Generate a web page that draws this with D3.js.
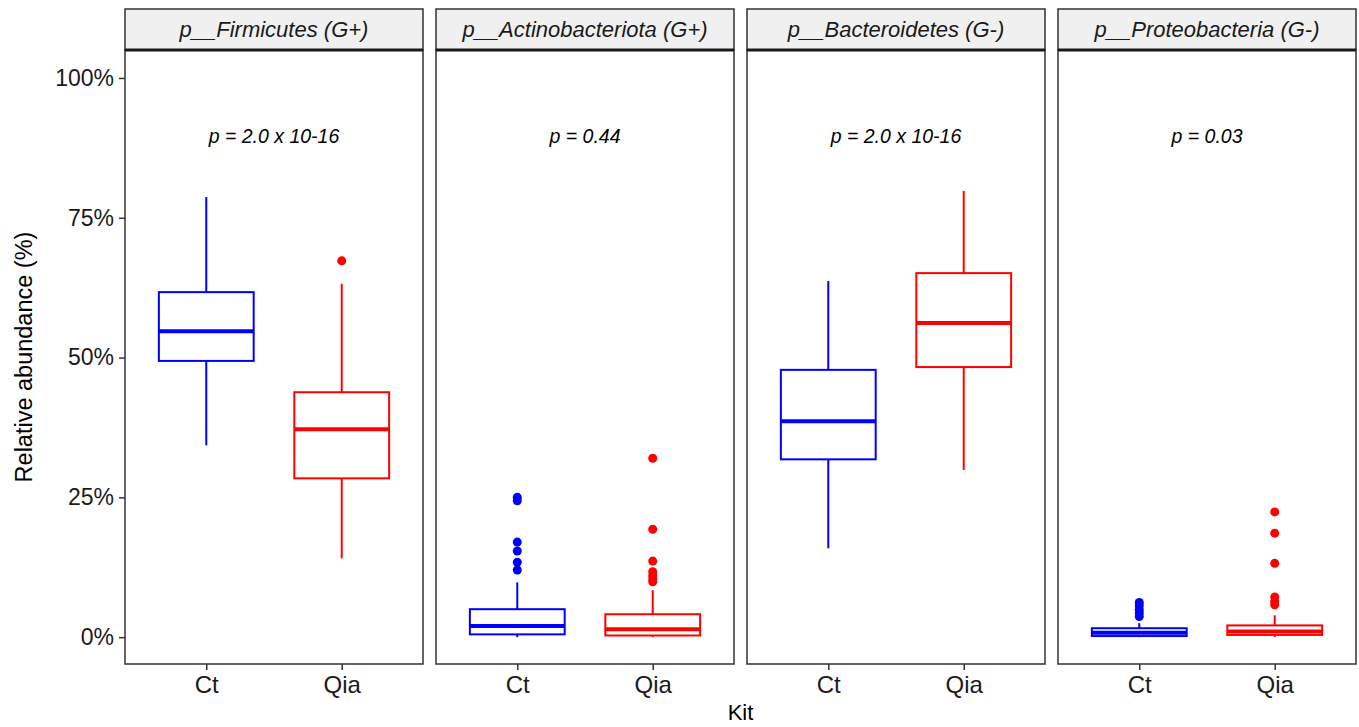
<!DOCTYPE html>
<html>
<head>
<meta charset="utf-8">
<script src="https://cdn.jsdelivr.net/npm/d3@7"></script>
<style>
  body { margin: 0; background: #fff; }
  text { font-family: "Liberation Sans", Arial, sans-serif; }
</style>
</head>
<body>
<div id="chart"></div>
<script>
// facets and labels
const phyla = ["p__Firmicutes (G+)", "p__Actinobacteriota (G+)", "p__Bacteroidetes (G-)", "p__Proteobacteria (G-)"];
const pLabels = ["p = 2.0 x 10-16", "p = 0.44", "p = 2.0 x 10-16", "p = 0.03"];
const kits = ["Ct", "Qia"];
const kitColors = ["#0000ff", "#ff0000"];
const yTicks = [0, 25, 50, 75, 100];

// box stats per phylum: [lower whisker, q1, median, q3, upper whisker] (%)
const ctStats = [
    [34.3, 49.4, 54.7, 61.7, 78.7],
    [0.0, 0.5, 2.0, 5.0, 9.8],
    [15.9, 31.8, 38.6, 47.8, 63.7],
    [0.0, 0.2, 0.8, 1.6, 2.5]
];
const qiaStats = [
    [14.1, 28.4, 37.2, 43.8, 63.2],
    [0.0, 0.3, 1.4, 4.1, 8.4],
    [29.9, 48.3, 56.2, 65.1, 79.8],
    [0.0, 0.4, 1.0, 2.1, 3.9]
];

// outliers per phylum (%)
const ctOutliers = [
    [],
    [25.0, 24.4, 17.0, 15.4, 13.4, 12.0],
    [],
    [6.2, 5.6, 4.9, 4.3, 3.7]
];
const qiaOutliers = [
    [67.3],
    [32.0, 19.3, 13.6, 11.7, 11.0, 10.4, 9.9],
    [],
    [22.4, 18.6, 13.2, 7.2, 6.4, 5.8]
];

const width = 1359;
const height = 727;
const left = 125;
const panelW = 298;
const gap = 13;
const stripTop = 9;
const stripBottom = 50;
const panelBottom = 664;

const svg = d3.select("#chart").append("svg")
    .attr("width", width)
    .attr("height", height);

const yScale = d3.scaleLinear()
    .domain([-4.8, 105])
    .range([panelBottom, stripBottom]);

const xScale = d3.scalePoint()
    .domain(kits)
    .range([0, panelW])
    .padding(0.6);

const boxW = xScale.step() * 0.7;

// y axis
const yAxis = d3.axisLeft(yScale)
    .tickValues(yTicks)
    .tickFormat(d => d + "%")
    .tickSize(6)
    .tickPadding(5);

const gy = svg.append("g")
    .attr("transform", "translate(" + left + ",0)")
    .call(yAxis);
gy.select(".domain").remove();
gy.selectAll("line").attr("stroke", "#333").attr("stroke-width", 1.5);
gy.selectAll("text").attr("fill", "#1a1a1a").style("font-size", "23px");

phyla.forEach((name, i) => {
    const x0 = left + i * (panelW + gap);
    const g = svg.append("g").attr("transform", "translate(" + x0 + ",0)");

    // strip
    g.append("rect")
        .attr("x", 0).attr("y", stripTop)
        .attr("width", panelW).attr("height", stripBottom - stripTop)
        .attr("fill", "#f0f0f0")
        .attr("stroke", "#333").attr("stroke-width", 1.5);
    g.append("text")
        .attr("x", panelW / 2).attr("y", (stripTop + stripBottom) / 2)
        .attr("dy", "0.35em")
        .attr("text-anchor", "middle")
        .style("font-size", "22px")
        .style("font-style", "italic")
        .attr("fill", "#1a1a1a")
        .text(name);

    // panel
    g.append("rect")
        .attr("x", 0).attr("y", stripBottom)
        .attr("width", panelW).attr("height", panelBottom - stripBottom)
        .attr("fill", "#fff")
        .attr("stroke", "#333").attr("stroke-width", 1.5);
    g.append("line")
        .attr("x1", 0).attr("x2", panelW)
        .attr("y1", stripBottom).attr("y2", stripBottom)
        .attr("stroke", "#1a1a1a").attr("stroke-width", 3);

    // p value
    g.append("text")
        .attr("x", panelW / 2).attr("y", 136)
        .attr("dy", "0.35em")
        .attr("text-anchor", "middle")
        .style("font-size", "19.5px")
        .style("font-style", "italic")
        .attr("fill", "#000")
        .text(pLabels[i]);

    // boxes
    [ctStats[i], qiaStats[i]].forEach((s, k) => {
        const cx = xScale(kits[k]);
        const col = kitColors[k];
        const outs = k === 0 ? ctOutliers[i] : qiaOutliers[i];

        g.append("line")
            .attr("x1", cx).attr("x2", cx)
            .attr("y1", yScale(s[0])).attr("y2", yScale(s[1]))
            .attr("stroke", col).attr("stroke-width", 2);
        g.append("line")
            .attr("x1", cx).attr("x2", cx)
            .attr("y1", yScale(s[3])).attr("y2", yScale(s[4]))
            .attr("stroke", col).attr("stroke-width", 2);
        g.append("rect")
            .attr("x", cx - boxW / 2)
            .attr("y", yScale(s[3]))
            .attr("width", boxW)
            .attr("height", yScale(s[1]) - yScale(s[3]))
            .attr("fill", "#fff")
            .attr("stroke", col).attr("stroke-width", 2);
        g.append("line")
            .attr("x1", cx - boxW / 2).attr("x2", cx + boxW / 2)
            .attr("y1", yScale(s[2])).attr("y2", yScale(s[2]))
            .attr("stroke", col).attr("stroke-width", 4);

        g.selectAll(".out" + k)
            .data(outs)
            .enter()
            .append("circle")
            .attr("cx", cx)
            .attr("cy", d => yScale(d))
            .attr("r", 4.5)
            .attr("fill", col);
    });

    // x axis
    const xAxis = d3.axisBottom(xScale).tickSize(6).tickPadding(6);
    const gx = g.append("g")
        .attr("transform", "translate(0," + panelBottom + ")")
        .call(xAxis);
    gx.select(".domain").remove();
    gx.selectAll("line").attr("stroke", "#333").attr("stroke-width", 1.5);
    gx.selectAll("text").attr("fill", "#1a1a1a").style("font-size", "24px");
});

// axis titles
svg.append("text")
    .attr("x", left + (4 * panelW + 3 * gap) / 2)
    .attr("y", 720)
    .attr("text-anchor", "middle")
    .style("font-size", "22px")
    .attr("fill", "#000")
    .text("Kit");

svg.append("text")
    .attr("transform", "translate(32," + (stripBottom + panelBottom) / 2 + ") rotate(-90)")
    .attr("text-anchor", "middle")
    .style("font-size", "23.5px")
    .attr("fill", "#000")
    .text("Relative abundance (%)");
</script>
</body>
</html>
